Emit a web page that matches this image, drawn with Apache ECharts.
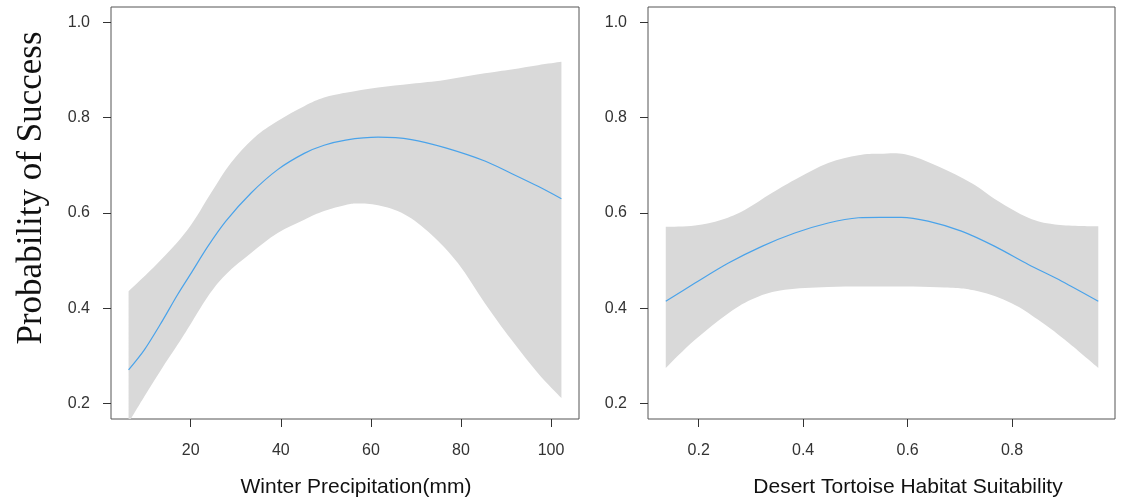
<!DOCTYPE html>
<html>
<head>
<meta charset="utf-8">
<script src="https://cdn.jsdelivr.net/npm/echarts@6/dist/echarts.min.js"></script>
<style>
  html, body { margin: 0; padding: 0; background: #fff; }
  #chart { width: 1121px; height: 504px; }
</style>
</head>
<body>
<div id="chart"></div>
<script>
// fitted curve + confidence band
const precipLine = [[6.2,0.271],[9.7,0.313],[13.4,0.369],[17.1,0.429],[20.1,0.474],[23.8,0.530],[27.8,0.583],[33.4,0.642],[39.3,0.691],[45.2,0.725],[49.6,0.742],[54.4,0.753],[61.6,0.759],[69.0,0.754],[76.4,0.737],[85.3,0.709],[91.2,0.683],[97.1,0.656],[102.3,0.630]];
const precipUpper = [[6.2,0.436],[12.7,0.495],[19.3,0.565],[24.5,0.642],[28.9,0.705],[34.1,0.758],[39.3,0.793],[45.2,0.824],[49.6,0.842],[54.4,0.852],[61.6,0.863],[69.0,0.871],[76.4,0.879],[85.3,0.893],[91.2,0.901],[97.1,0.910],[102.3,0.917]];
const precipLower = [[6.2,0.160],[9.7,0.215],[13.4,0.271],[17.1,0.324],[20.1,0.369],[23.8,0.425],[27.8,0.471],[33.4,0.516],[39.3,0.558],[45.2,0.586],[49.6,0.604],[54.4,0.617],[57.2,0.620],[61.6,0.616],[67.5,0.597],[73.4,0.555],[79.3,0.495],[85.3,0.411],[91.2,0.334],[97.1,0.264],[102.3,0.212]];

const habitatLine = [[0.137,0.415],[0.193,0.453],[0.257,0.495],[0.321,0.530],[0.384,0.558],[0.448,0.579],[0.506,0.590],[0.547,0.591],[0.588,0.591],[0.639,0.583],[0.703,0.562],[0.767,0.530],[0.831,0.492],[0.895,0.457],[0.965,0.415]];
const habitatUpper = [[0.137,0.571],[0.193,0.574],[0.244,0.586],[0.289,0.607],[0.340,0.642],[0.391,0.674],[0.448,0.705],[0.506,0.721],[0.547,0.724],[0.595,0.723],[0.658,0.698],[0.722,0.663],[0.773,0.625],[0.831,0.590],[0.882,0.576],[0.965,0.572]];
const habitatLower = [[0.137,0.275],[0.193,0.334],[0.257,0.390],[0.308,0.422],[0.365,0.439],[0.448,0.445],[0.547,0.446],[0.671,0.444],[0.735,0.436],[0.799,0.411],[0.850,0.376],[0.901,0.334],[0.965,0.275]];

const yTicks = [0.2, 0.4, 0.6, 0.8, 1.0];
const precipTicks = [20, 40, 60, 80, 100];
const habitatTicks = [0.2, 0.4, 0.6, 0.8];

const chart = echarts.init(document.getElementById('chart'), null, { renderer: 'canvas' });

const labelFont = { fontFamily: 'Liberation Sans, Arial, sans-serif', fontSize: 16, color: '#333' };

// cubic path through screen points (smooth along the curve)
function curve(pts, cmd) {
  let d = cmd + pts[0][0] + ',' + pts[0][1];
  const t = 0.18;
  for (let i = 0; i < pts.length - 1; i++) {
    const p0 = pts[Math.max(i - 1, 0)], p1 = pts[i], p2 = pts[i + 1], p3 = pts[Math.min(i + 2, pts.length - 1)];
    const c1 = [p1[0] + (p2[0] - p0[0]) * t, p1[1] + (p2[1] - p0[1]) * t];
    const c2 = [p2[0] - (p3[0] - p1[0]) * t, p2[1] - (p3[1] - p1[1]) * t];
    d += 'C' + c1[0] + ',' + c1[1] + ' ' + c2[0] + ',' + c2[1] + ' ' + p2[0] + ',' + p2[1];
  }
  return d;
}

// band = smooth upper edge, smooth lower edge, straight vertical ends
function band(upper, lower) {
  return (params, api) => {
    const up = upper.map(p => api.coord(p));
    const lo = lower.map(p => api.coord(p)).reverse();
    return {
      type: 'path',
      shape: { pathData: curve(up, 'M') + curve(lo, 'L') + 'Z' },
      style: { fill: '#d9d9d9', stroke: null }
    };
  };
}

function xAxis(idx, min, max, ticks, digits) {
  return {
    type: 'value', gridIndex: idx, min, max,
    axisLine: { show: false },
    splitLine: { show: false },
    axisTick: { show: true, length: 8, customValues: ticks, lineStyle: { color: '#333' } },
    axisLabel: { customValues: ticks, margin: 24, formatter: v => v.toFixed(digits), ...labelFont }
  };
}

function yAxis(idx) {
  return {
    type: 'value', gridIndex: idx, min: 0.168, max: 1.032,
    axisLine: { show: false },
    splitLine: { show: false },
    axisTick: { show: true, length: 8, customValues: yTicks, lineStyle: { color: '#333' } },
    axisLabel: { customValues: yTicks, margin: 21, formatter: v => v.toFixed(1), ...labelFont }
  };
}

const option = {
  animation: false,
  grid: [
    { left: 111, top: 7, width: 468, height: 412, show: true, borderColor: '#555', borderWidth: 1 },
    { left: 648, top: 7, width: 467, height: 412, show: true, borderColor: '#555', borderWidth: 1 }
  ],
  xAxis: [
    xAxis(0, 2.3, 106.2, precipTicks, 0),
    xAxis(1, 0.103, 0.997, habitatTicks, 1)
  ],
  yAxis: [yAxis(0), yAxis(1)],
  series: [
    { type: 'custom', xAxisIndex: 0, yAxisIndex: 0, clip: true, z: 1, data: [0], renderItem: band(precipUpper, precipLower) },
    { type: 'line', xAxisIndex: 0, yAxisIndex: 0, z: 2, data: precipLine, smooth: 0.3, symbol: 'none',
      lineStyle: { color: '#4aa3ea', width: 1.2 } },
    { type: 'custom', xAxisIndex: 1, yAxisIndex: 1, clip: true, z: 1, data: [0], renderItem: band(habitatUpper, habitatLower) },
    { type: 'line', xAxisIndex: 1, yAxisIndex: 1, z: 2, data: habitatLine, smooth: 0.3, symbol: 'none',
      lineStyle: { color: '#4aa3ea', width: 1.2 } }
  ],
  graphic: [
    { type: 'text', x: 32, y: 188, rotation: Math.PI / 2,
      style: { text: 'Probability of Success', font: '35px "Liberation Serif", "Times New Roman", serif', fill: '#111', align: 'center', verticalAlign: 'middle' } },
    { type: 'text', x: 356, y: 487,
      style: { text: 'Winter Precipitation(mm)', font: '21px "Liberation Sans", Arial, sans-serif', fill: '#111', align: 'center', verticalAlign: 'middle' } },
    { type: 'text', x: 908, y: 487,
      style: { text: 'Desert Tortoise Habitat Suitability', font: '21px "Liberation Sans", Arial, sans-serif', fill: '#111', align: 'center', verticalAlign: 'middle' } }
  ]
};

chart.setOption(option);
</script>
</body>
</html>
